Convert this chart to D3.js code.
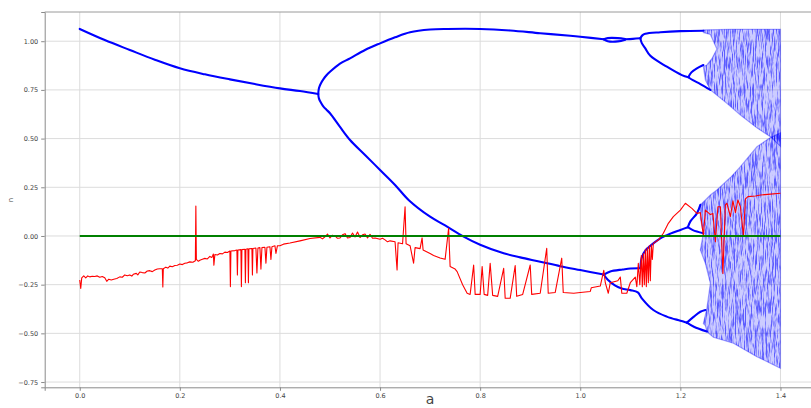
<!DOCTYPE html>
<html><head><meta charset="utf-8">
<script src="https://cdn.jsdelivr.net/npm/d3@7"></script>
<style>html,body{margin:0;padding:0;background:#fff}svg{display:block}</style>
</head><body>
<svg id="chart" width="811" height="408"></svg>
<script>
// ---------- data ----------
const xTicks = [0.0, 0.2, 0.4, 0.6, 0.8, 1.0, 1.2, 1.4];
const yTicks = [-0.75, -0.50, -0.25, 0.00, 0.25, 0.50, 0.75, 1.00];
const xLabel = "a";
const yLabel = "n";

// periodic branches of the bifurcation diagram [a, value]
const branchP1 = [[0,1.063],[0.05,1.006],[0.1,0.955],[0.15,0.905],[0.2,0.861],[0.25,0.83],[0.3,0.804],[0.35,0.78],[0.4,0.758],[0.44,0.744],[0.4765,0.729]];
const branchUp2 = [[0.4765,0.729],[0.478,0.76],[0.482,0.784],[0.487,0.805],[0.493,0.825],[0.5,0.843],[0.52,0.885],[0.54,0.912],[0.57,0.955],[0.6,0.989],[0.63,1.02],[0.66,1.046],[0.7,1.06],[0.734,1.063],[0.8,1.063],[0.86,1.055],[0.92,1.041],[0.98,1.028],[1.0,1.023],[1.047,1.01]];
const bubbleUpA = [[1.047,1.01],[1.055,1.016],[1.075,1.016],[1.09,1.011]];
const bubbleUpB = [[1.047,1.01],[1.055,1.0],[1.075,0.999],[1.09,1.008]];
const branchUp2b = [[1.09,1.01],[1.105,1.012],[1.12,1.015]];
const branchUU = [[1.12,1.015],[1.124,1.03],[1.13,1.038],[1.16,1.046],[1.2,1.052],[1.246,1.054]];
const branchUL = [[1.12,1.015],[1.123,0.99],[1.13,0.963],[1.14,0.925],[1.173,0.869],[1.203,0.826],[1.216,0.815]];
const branchULup = [[1.216,0.815],[1.222,0.84],[1.233,0.861],[1.246,0.878]];
const branchULdn = [[1.216,0.815],[1.225,0.80],[1.24,0.78],[1.26,0.75]];
const branchLo2 = [[0.4765,0.729],[0.478,0.705],[0.482,0.684],[0.487,0.664],[0.493,0.648],[0.5,0.630],[0.52,0.56],[0.54,0.493],[0.57,0.416],[0.6,0.339],[0.63,0.262],[0.657,0.185],[0.7,0.099],[0.73,0.054],[0.767,-0.003],[0.8,-0.045],[0.847,-0.089],[0.88,-0.11],[0.92,-0.132],[0.96,-0.155],[1.0,-0.175],[1.047,-0.198]];
const branchLoA = [[1.047,-0.198],[1.06,-0.182],[1.085,-0.172],[1.1,-0.167],[1.12,-0.166]];
const branchLoA2 = [[1.12,-0.166],[1.123,-0.11],[1.13,-0.075],[1.146,-0.038],[1.16,-0.012],[1.18,0.012],[1.2,0.031],[1.215,0.045]];
const branchLoAup = [[1.215,0.045],[1.22,0.075],[1.233,0.116],[1.24,0.16]];
const branchLoAdn = [[1.215,0.045],[1.225,0.03],[1.246,0.014]];
const branchLoB = [[1.047,-0.198],[1.055,-0.225],[1.07,-0.255],[1.083,-0.27],[1.1,-0.278],[1.115,-0.29],[1.123,-0.32],[1.146,-0.38],[1.173,-0.414],[1.2,-0.435],[1.213,-0.445]];
const branchLoBup = [[1.213,-0.445],[1.227,-0.414],[1.24,-0.389],[1.25,-0.38]];
const branchLoBdn = [[1.213,-0.445],[1.227,-0.466],[1.253,-0.491]];
const branches = [branchP1, branchUp2, bubbleUpA, bubbleUpB, branchUp2b, branchUU, branchUL, branchULup, branchULdn,
  branchLo2, branchLoA, branchLoA2, branchLoAup, branchLoAdn, branchLoB, branchLoBup, branchLoBdn];

// outlines of the chaotic bands [a, value]
const chaosUpper = [[1.246,1.058],[1.3,1.061],[1.4,1.061],[1.4,0.46],[1.38,0.51],[1.353,0.555],[1.32,0.621],[1.293,0.681],[1.26,0.75],[1.25,0.80],[1.246,0.87],[1.253,0.878],[1.263,0.91],[1.273,0.96],[1.26,1.035],[1.246,1.045]];
const chaosLower = [[1.24,0.16],[1.26,0.21],[1.273,0.236],[1.3,0.30],[1.32,0.356],[1.353,0.458],[1.38,0.505],[1.4,0.53],[1.4,-0.679],[1.353,-0.62],[1.306,-0.551],[1.266,-0.52],[1.253,-0.491],[1.25,-0.46],[1.246,-0.45],[1.253,-0.372],[1.26,-0.243],[1.25,-0.14],[1.24,-0.072],[1.246,0.014],[1.24,0.09]];

// Lyapunov exponent curve [a, lambda]
const lyapunov = [[0,-0.226],[0.002,-0.27],[0.004,-0.215],[0.008,-0.205],[0.012,-0.215],[0.016,-0.205],[0.02,-0.21],[0.025,-0.207],[0.03,-0.208],[0.035,-0.205],[0.04,-0.212],[0.045,-0.208],[0.05,-0.215],[0.054,-0.233],[0.058,-0.222],[0.063,-0.226],[0.068,-0.222],[0.074,-0.218],[0.08,-0.21],[0.085,-0.212],[0.09,-0.2],[0.095,-0.204],[0.1,-0.2],[0.104,-0.206],[0.107,-0.197],[0.113,-0.192],[0.116,-0.2],[0.12,-0.185],[0.125,-0.188],[0.13,-0.19],[0.135,-0.18],[0.14,-0.178],[0.145,-0.183],[0.15,-0.175],[0.155,-0.17],[0.16,-0.168],[0.165,-0.168],[0.166,-0.262],[0.167,-0.168],[0.172,-0.16],[0.176,-0.165],[0.18,-0.155],[0.185,-0.158],[0.19,-0.152],[0.195,-0.15],[0.2,-0.144],[0.205,-0.147],[0.21,-0.14],[0.215,-0.138],[0.22,-0.133],[0.226,-0.135],[0.231,-0.127],[0.232,0.154],[0.233,-0.12],[0.237,-0.13],[0.24,-0.125],[0.245,-0.12],[0.25,-0.115],[0.255,-0.118],[0.26,-0.105],[0.264,-0.11],[0.267,-0.093],[0.268,-0.15],[0.27,-0.095],[0.275,-0.098],[0.28,-0.09],[0.285,-0.092],[0.29,-0.083],[0.295,-0.085],[0.3,-0.077],[0.301,-0.26],[0.302,-0.077],[0.31,-0.075],[0.314,-0.072],[0.315,-0.2],[0.316,-0.072],[0.322,-0.07],[0.323,-0.26],[0.324,-0.07],[0.33,-0.068],[0.331,-0.24],[0.332,-0.068],[0.336,-0.066],[0.337,-0.24],[0.338,-0.066],[0.344,-0.064],[0.345,-0.2],[0.346,-0.064],[0.352,-0.062],[0.354,-0.19],[0.356,-0.062],[0.36,-0.06],[0.362,-0.17],[0.364,-0.06],[0.37,-0.058],[0.372,-0.14],[0.374,-0.058],[0.38,-0.055],[0.382,-0.12],[0.384,-0.055],[0.39,-0.05],[0.392,-0.09],[0.395,-0.05],[0.4,-0.05],[0.407,-0.042],[0.42,-0.036],[0.44,-0.025],[0.46,-0.013],[0.48,-0.007],[0.485,-0.015],[0.49,-0.004],[0.495,0.01],[0.5,-0.01],[0.505,0.004],[0.51,0.0],[0.515,-0.012],[0.52,-0.01],[0.525,0.006],[0.53,0.012],[0.535,-0.01],[0.54,-0.008],[0.545,0.015],[0.55,-0.005],[0.555,0.02],[0.56,-0.008],[0.565,0.006],[0.57,0.01],[0.575,-0.01],[0.58,0.008],[0.585,-0.012],[0.59,-0.01],[0.6,-0.017],[0.605,-0.012],[0.61,-0.02],[0.615,-0.03],[0.62,-0.025],[0.63,-0.03],[0.634,-0.175],[0.636,-0.035],[0.645,-0.04],[0.65,0.15],[0.652,-0.04],[0.66,-0.05],[0.667,-0.14],[0.67,-0.06],[0.68,-0.065],[0.684,-0.01],[0.686,-0.072],[0.7,-0.09],[0.707,-0.1],[0.72,-0.113],[0.73,-0.12],[0.737,0.039],[0.74,-0.157],[0.75,-0.17],[0.754,-0.183],[0.765,-0.25],[0.774,-0.294],[0.78,-0.3],[0.787,-0.149],[0.79,-0.3],[0.8,-0.3],[0.804,-0.157],[0.808,-0.3],[0.815,-0.305],[0.82,-0.14],[0.825,-0.305],[0.835,-0.31],[0.847,-0.166],[0.85,-0.32],[0.86,-0.32],[0.87,-0.152],[0.873,-0.31],[0.885,-0.3],[0.9,-0.149],[0.903,-0.3],[0.92,-0.294],[0.933,-0.063],[0.936,-0.294],[0.95,-0.29],[0.963,-0.114],[0.966,-0.29],[0.987,-0.294],[1.0,-0.29],[1.02,-0.285],[1.022,-0.266],[1.04,-0.257],[1.047,-0.176],[1.05,-0.24],[1.056,-0.294],[1.06,-0.24],[1.075,-0.23],[1.08,-0.211],[1.083,-0.294],[1.093,-0.294],[1.1,-0.24],[1.11,-0.211],[1.113,-0.26],[1.116,-0.14],[1.119,-0.25],[1.122,-0.1],[1.124,-0.26],[1.126,-0.09],[1.128,-0.25],[1.13,-0.07],[1.132,-0.26],[1.134,-0.06],[1.136,-0.24],[1.138,-0.05],[1.14,-0.23],[1.142,-0.045],[1.144,-0.12],[1.146,-0.038],[1.156,-0.021],[1.166,0.014],[1.176,0.065],[1.186,0.099],[1.2,0.133],[1.21,0.168],[1.223,0.142],[1.233,0.116],[1.24,0.12],[1.246,0.0],[1.25,0.133],[1.26,0.11],[1.265,0.116],[1.27,-0.03],[1.275,0.15],[1.28,0.15],[1.285,-0.192],[1.29,0.16],[1.293,0.168],[1.3,0.1],[1.305,0.18],[1.31,0.12],[1.315,0.185],[1.32,0.15],[1.326,0.0],[1.33,0.19],[1.335,0.202],[1.35,0.205],[1.36,0.21],[1.38,0.215],[1.4,0.219]];

const zeroLine = [[0,0],[1.4,0]];

// ---------- drawing ----------
const svg = d3.select("#chart");
const x = d3.scaleLinear().domain([-0.07, 1.47]).range([44.7, 815.5]);
const y = d3.scaleLinear().domain([-0.777, 1.15]).range([387.3, 12]);
const pL = 44.7, pR = 815.5, pT = 12, pB = 387.3;

const defs = svg.append("defs");
defs.append("clipPath").attr("id","plotclip").append("rect")
  .attr("x",pL).attr("y",pT).attr("width",pR-pL).attr("height",pB-pT);
const f = defs.append("filter").attr("id","speck").attr("x","0").attr("y","0").attr("width","1").attr("height","1");
f.append("feTurbulence").attr("type","fractalNoise").attr("baseFrequency","1.1 0.07").attr("numOctaves",3).attr("seed",7).attr("result","n");
f.append("feColorMatrix").attr("in","n").attr("type","matrix")
  .attr("values","0 0 0 0 0  0 0 0 0 0  0 0 0 0 1  4 0 0 0 -1.75").attr("result","m");
f.append("feComposite").attr("in","m").attr("in2","SourceGraphic").attr("operator","in");

// grid
const g = svg.append("g");
g.selectAll("line.gx").data(xTicks).join("line")
  .attr("x1",d=>x(d)).attr("x2",d=>x(d)).attr("y1",pT).attr("y2",pB)
  .attr("stroke","#dcdcdc").attr("stroke-width",1);
g.selectAll("line.gy").data(yTicks).join("line")
  .attr("y1",d=>y(d)).attr("y2",d=>y(d)).attr("x1",pL).attr("x2",pR)
  .attr("stroke","#dcdcdc").attr("stroke-width",1);

const plot = svg.append("g").attr("clip-path","url(#plotclip)");
const line = d3.line().x(d=>x(d[0])).y(d=>y(d[1]));
const smooth = d3.line().x(d=>x(d[0])).y(d=>y(d[1])).curve(d3.curveCatmullRom.alpha(0.5));

// chaotic bands
[chaosUpper, chaosLower].forEach(poly => {
  plot.append("path").attr("d", line(poly) + "Z")
    .attr("fill","#0000ff").attr("fill-opacity",0.2).attr("stroke","#0000ff").attr("stroke-opacity",0.35).attr("stroke-width",1.2);
  plot.append("path").attr("d", line(poly) + "Z")
    .attr("fill","#0000ff").attr("filter","url(#speck)").attr("opacity",0.55);
});

// periodic branches
branches.forEach(b => {
  plot.append("path").attr("d", smooth(b)).attr("fill","none")
    .attr("stroke","#0000ff").attr("stroke-width",2.1).attr("stroke-linejoin","round").attr("stroke-linecap","round");
});

// Lyapunov curve
plot.append("path").attr("d", line(lyapunov)).attr("fill","none")
  .attr("stroke","#ff0000").attr("stroke-width",1.1).attr("stroke-linejoin","round");

// zero line
plot.append("path").attr("d", line(zeroLine)).attr("fill","none")
  .attr("stroke","#008000").attr("stroke-width",2);

// axes
const xAxis = d3.axisBottom(x).tickValues(xTicks).tickFormat(d3.format(".1f")).tickSizeOuter(0).tickSize(3.5).tickPadding(3);
const yAxis = d3.axisLeft(y).tickValues(yTicks).tickFormat(d3.format(".2f")).tickSizeOuter(0).tickSize(3.5).tickPadding(3);
const gx = svg.append("g").attr("transform",`translate(0,${pB})`).call(xAxis);
const gy = svg.append("g").attr("transform",`translate(${pL},0)`).call(yAxis);
[gx,gy].forEach(ax=>{
  ax.select(".domain").attr("stroke","#8a8a8a");
  ax.selectAll(".tick line").attr("stroke","#8a8a8a");
  ax.selectAll(".tick text").attr("fill","#444").style("font-family","DejaVu Sans").style("font-size","6.5px");
});
svg.append("line").attr("x1",pL).attr("x2",pR).attr("y1",pT).attr("y2",pT).attr("stroke","#9a9a9a");
svg.append("line").attr("x1",pR).attr("x2",pR).attr("y1",pT).attr("y2",pB).attr("stroke","#9a9a9a");

svg.append("text").attr("x", (pL+pR)/2).attr("y", 404).attr("text-anchor","middle")
  .style("font-family","DejaVu Sans").style("font-size","14px").attr("fill","#444").text(xLabel);
svg.append("text").attr("transform","translate(13,200) rotate(-90)").attr("text-anchor","middle")
  .style("font-family","DejaVu Sans").style("font-size","7px").attr("fill","#444").text(yLabel);
</script>
</body></html>
